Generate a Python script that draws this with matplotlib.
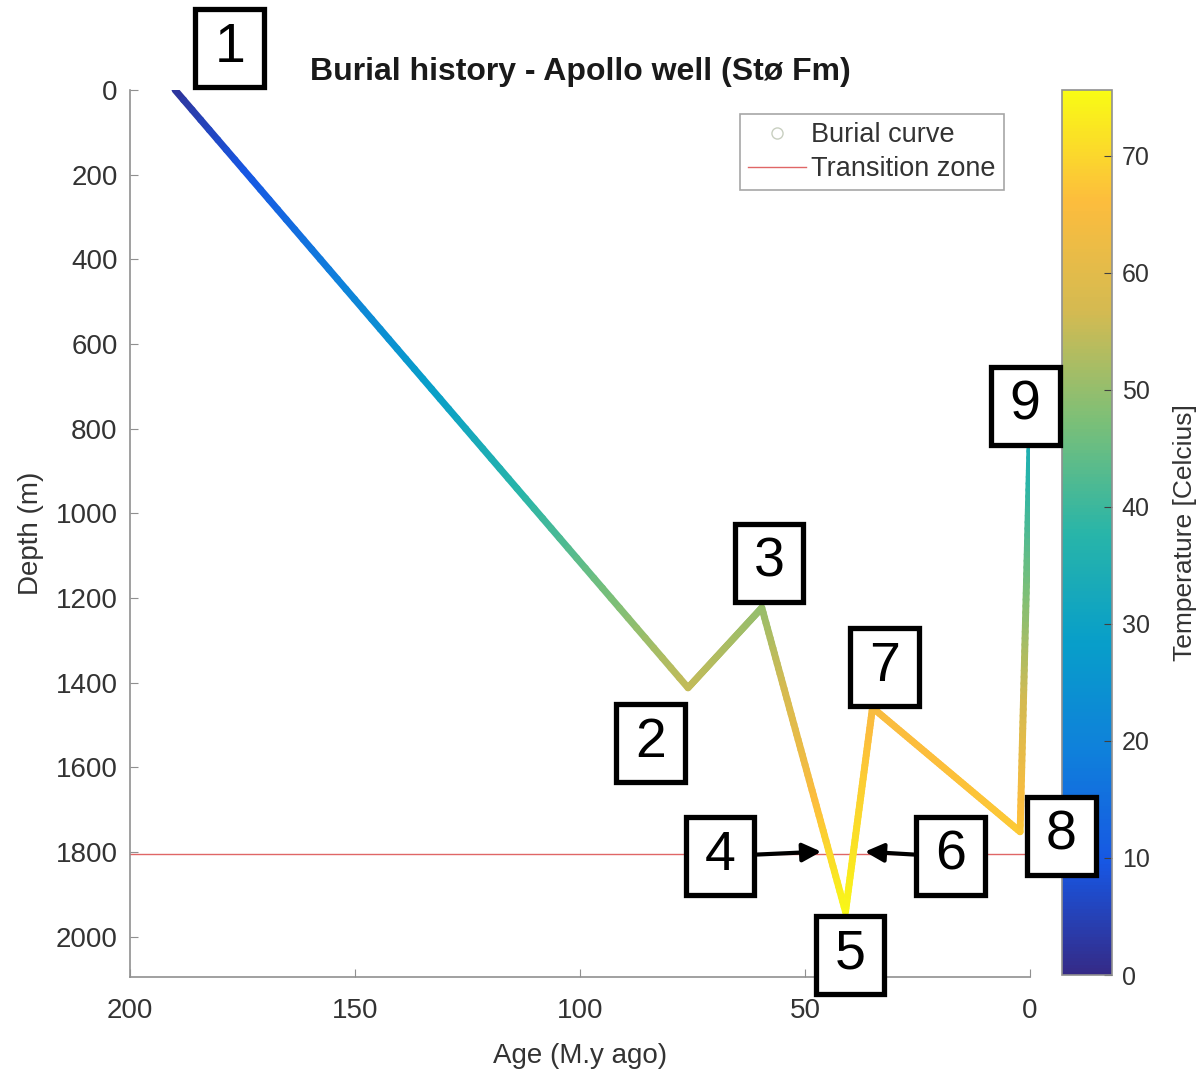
import numpy as np
import matplotlib
matplotlib.use('Agg')
import matplotlib.pyplot as plt
from matplotlib.collections import LineCollection
from matplotlib.colors import LinearSegmentedColormap, Normalize
from matplotlib.lines import Line2D
from matplotlib.path import Path

plt.rcParams['font.family'] = ['Liberation Sans', 'DejaVu Sans']

# burial history vertices
age = [190, 76, 59.6, 41, 35, 2.2, 0]            # M.y ago
depth = [0, 1412, 1223, 1941, 1459, 1752, 838]   # m
temp = [2, 55, 50, 75, 65, 68, 35]               # deg C at each vertex
transition_depth = 1805

labels = ['1', '2', '3', '4', '5', '6', '7', '8', '9']
label_age = [177.8, 84.4, 58.0, 68.9, 40.0, 17.6, 32.4, -6.9, 1.1]
label_depth = [-99, 1542, 1117, 1809, 2043, 1809, 1363, 1762, 746]

# arrows from box 4 and box 6 to the transition crossing
arrow_from = [(60.9, 1806), (25.6, 1806)]
arrow_to = [(46.4, 1799), (36.7, 1799)]

# parula-like colormap
parula = LinearSegmentedColormap.from_list('parula', [
    (0.000, (0.208, 0.166, 0.529)),
    (0.125, (0.090, 0.340, 0.890)),
    (0.250, (0.060, 0.500, 0.860)),
    (0.375, (0.030, 0.620, 0.790)),
    (0.500, (0.160, 0.710, 0.660)),
    (0.625, (0.480, 0.750, 0.470)),
    (0.750, (0.830, 0.730, 0.320)),
    (0.875, (0.990, 0.740, 0.240)),
    (1.000, (0.976, 0.984, 0.081)),
])
norm = Normalize(vmin=0, vmax=75.6)


def fixed_box(x0, y0, width, height, mutation_size):
    # same-size square frame for every number label
    cx, cy = x0 + width / 2, y0 + height / 2
    w, h = 1.24 * mutation_size, 1.40 * mutation_size
    return Path.unit_rectangle().transformed(
        matplotlib.transforms.Affine2D().scale(w, h).translate(cx - w / 2, cy - h / 2))


fig = plt.figure(figsize=(12.03, 10.75), dpi=100)
cax = fig.add_axes([0.8828, 0.0930, 0.0416, 0.8233])
ax = fig.add_axes([0.1081, 0.0912, 0.7481, 0.8251])
ax.set_zorder(3)
ax.patch.set_alpha(0)

# gradient burial curve: split each leg into short pieces for smooth colouring
segs, cols = [], []
for i in range(len(age) - 1):
    n = 60
    xs = np.linspace(age[i], age[i + 1], n + 1)
    ys = np.linspace(depth[i], depth[i + 1], n + 1)
    ts = np.linspace(temp[i], temp[i + 1], n + 1)
    for k in range(n):
        segs.append([(xs[k], ys[k]), (xs[k + 1], ys[k + 1])])
        cols.append(0.5 * (ts[k] + ts[k + 1]))
lc = LineCollection(segs, cmap=parula, norm=norm, linewidths=5, capstyle='round')
lc.set_array(np.array(cols))
ax.add_collection(lc)

ax.axhline(transition_depth, color='#e06666', lw=1, zorder=1)

ax.set_xlim(200, 0)
ax.set_ylim(2095, 0)
ax.set_xticks([200, 150, 100, 50, 0])
ax.set_yticks(np.arange(0, 2001, 200))
for s in ['top', 'right']:
    ax.spines[s].set_visible(False)
for s in ['left', 'bottom']:
    ax.spines[s].set_color('#909090')
    ax.spines[s].set_linewidth(1.2)
ax.tick_params(axis='both', direction='in', length=6, color='#909090',
               labelsize=20, labelcolor='#333333')
ax.tick_params(axis='x', pad=15)
ax.tick_params(axis='y', pad=9)
ax.set_xlabel('Age (M.y ago)', fontsize=20, color='#333333', labelpad=14)
ax.set_ylabel('Depth (m)', fontsize=20, color='#333333', labelpad=8)
ax.set_title('Burial history - Apollo well (Stø Fm)', fontsize=23,
             fontweight='bold', color='#1a1a1a', pad=7)

handles = [Line2D([], [], ls='none', marker='o', mfc='none', mec='#c8cfc0', ms=8),
           Line2D([], [], color='#e06666', lw=1)]
leg = ax.legend(handles, ['Burial curve', 'Transition zone'], loc='upper right',
                bbox_to_anchor=(0.971, 0.973), fontsize=19.5, frameon=True,
                fancybox=False, edgecolor='#909090', handlelength=2.15,
                handletextpad=0.2, borderpad=0.3, labelspacing=0.3,
                borderaxespad=0)
leg.get_frame().set_linewidth(1.2)
for t in leg.get_texts():
    t.set_color('#333333')

for lab, a, d in zip(labels, label_age, label_depth):
    ax.text(a, d, lab, fontsize=40, ha='center', va='center', zorder=5,
            clip_on=False,
            bbox=dict(boxstyle=fixed_box, fc='white', ec='black', lw=3.8))

for (x0, y0), (x1, y1) in zip(arrow_from, arrow_to):
    ax.annotate('', xy=(x1, y1), xytext=(x0, y0),
                arrowprops=dict(arrowstyle='-|>', color='black', lw=3,
                                mutation_scale=28, shrinkA=0, shrinkB=0),
                zorder=6)

cb = fig.colorbar(plt.cm.ScalarMappable(norm=norm, cmap=parula), cax=cax)
cb.set_ticks(np.arange(0, 71, 10))
cb.outline.set_edgecolor('#909090')
cb.outline.set_linewidth(1.2)
cax.tick_params(direction='in', length=6, color='#404040', labelsize=18,
                labelcolor='#333333', pad=7)
cb.set_label('Temperature [Celcius]', fontsize=19, color='#333333', labelpad=17)

fig.savefig('out.png', dpi=100, facecolor='white')
